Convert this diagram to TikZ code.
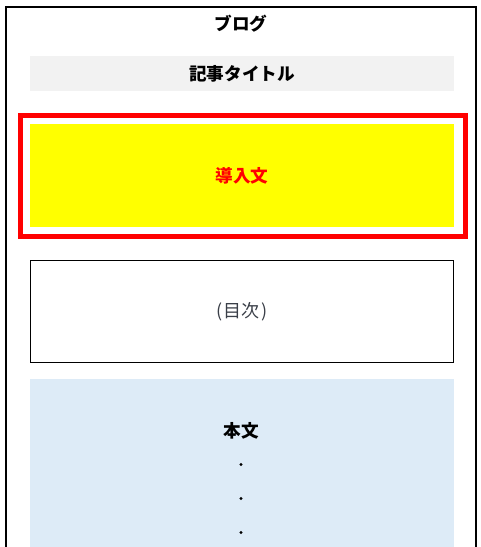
\documentclass[tikz,border=0pt]{standalone}
\usepackage{fontspec}
\setmainfont{Noto Sans CJK JP}
\begin{document}
\begin{tikzpicture}[x=1pt,y=-1pt,
  box/.style={inner sep=0pt,outer sep=0pt,minimum width=424pt},
  lbl/.style={font=\fontsize{17.6}{20}\selectfont\bfseries,inner sep=0pt},
  dotmark/.style={circle,fill=black,inner sep=0pt,minimum size=3.2pt}]
\definecolor{grayfill}{HTML}{F2F2F2}
\definecolor{bodyfill}{HTML}{DDEBF7}
\definecolor{tocgray}{HTML}{3A3F48}
\definecolor{pureyellow}{HTML}{FFFF00}
\definecolor{purered}{HTML}{FF0000}
\useasboundingbox (0,0) rectangle (481,547);
\clip (0,0) rectangle (481,547);
% outer frame
\coordinate (fl) at (6.2,560);
\coordinate (fr) at (475.8,560);
\draw[line width=2.5pt] (fl) -- (6.2,7.2) -- (475.8,7.2) -- (fr);
% title
\node[lbl] (blog) at (241,24) {ブログ};
% article title
\node[box,fill=grayfill,minimum height=35pt] (title) at (242,73.5) {};
\node[lbl] (titletext) at (title.center) {記事タイトル};
% intro
\node[draw=purered,line width=5pt,inner sep=0pt,minimum width=445pt,minimum height=121pt] (frame) at (243,176) {};
\node[box,fill=pureyellow,minimum height=103pt] (intro) at (242,175.5) {};
\node[lbl,text=purered] (introtext) at (intro.center) {導入文};
% toc
\node[box,draw=black,line width=1pt,minimum width=423pt,minimum height=101.5pt] (toc) at (242,311.3) {};
\node[font=\fontsize{18}{20}\selectfont,text=tocgray,inner sep=0pt] (toctext) at (toc.center) {(\kern1.5pt 目次\kern1.5pt)};
% body
\node[box,fill=bodyfill,minimum height=190pt] (body) at (242,474) {};
\node[lbl] (bodytext) at (241,431) {本文};
\node[dotmark] (d1) at (241,464.5) {};
\node[dotmark] (d2) at (241,498.5) {};
\node[dotmark] (d3) at (241,532.5) {};
\end{tikzpicture}
\end{document}
